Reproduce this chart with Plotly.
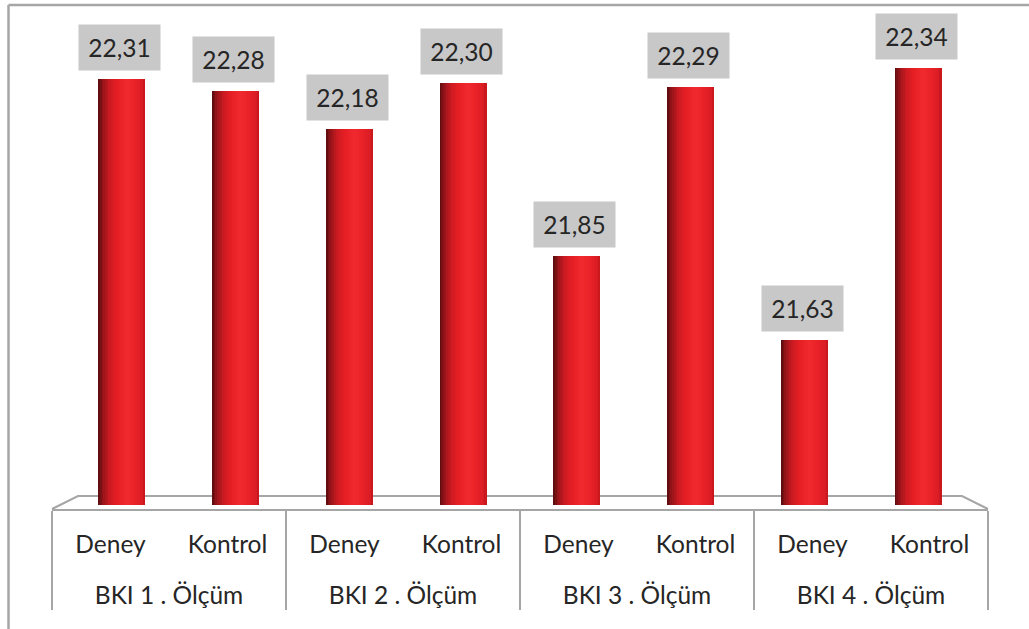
import plotly.graph_objects as go

# Body-mass index (BKI) measurements, experiment vs control group
groups = ["BKI 1 . Ölçüm", "BKI 2 . Ölçüm", "BKI 3 . Ölçüm", "BKI 4 . Ölçüm"]
subgroups = ["Deney", "Kontrol"]
values = [22.31, 22.28, 22.18, 22.30, 21.85, 22.29, 21.63, 22.34]
labels = ["22,31", "22,28", "22,18", "22,30", "21,85", "22,29", "21,63", "22,34"]
base_value = 21.2

outer = [g for g in groups for _ in subgroups]
inner = [s for _ in groups for s in subgroups]
keys = [f"{g}|{s}" for g, s in zip(outer, inner)]

# a blank trailing line under each inner label widens the gap between label rows
spacer = "<br><span style='font-size:28px'>&nbsp;</span>"
inner_ticks = [s + spacer for s in inner]

W, H = 1029, 629
TEXT = "#262626"
GRID = "#a6a6a6"
FONT = "Lato"
FSIZE = 24.5


def px(x):
    return x / W


def py(y):
    return (H - y) / H


# horizontal shading across a cylinder: dark left rim, bright body
stops = [(0.00, (88, 12, 14)), (0.10, (150, 20, 25)), (0.25, (206, 27, 34)),
         (0.40, (229, 30, 37)), (0.60, (240, 42, 46)), (0.80, (232, 33, 40)),
         (0.95, (216, 28, 35)), (1.00, (196, 22, 29))]


def shade(t):
    for (t0, c0), (t1, c1) in zip(stops, stops[1:]):
        if t <= t1:
            f = (t - t0) / (t1 - t0) if t1 > t0 else 0
            c = [round(a + (b - a) * f) for a, b in zip(c0, c1)]
            return f"rgb({c[0]},{c[1]},{c[2]})"
    c = stops[-1][1]
    return f"rgb({c[0]},{c[1]},{c[2]})"


fig = go.Figure()

bar_width = 0.413
n_strips = 28
step = bar_width / n_strips
for i in range(n_strips):
    off = -bar_width / 2 + i * step
    w = min(step * 1.8, bar_width / 2 - off)
    fig.add_trace(go.Bar(
        x=keys, y=[v - base_value for v in values], base=base_value,
        xaxis="x2", yaxis="y",
        width=w, offset=off,
        marker=dict(color=shade((i + 0.5) / n_strips), line=dict(width=0)),
        hoverinfo="skip", showlegend=False,
    ))

# invisible trace that carries the two-level category axis
fig.add_trace(go.Scatter(
    x=[outer, inner_ticks], y=values, xaxis="x", yaxis="y",
    mode="markers", marker=dict(opacity=0), hoverinfo="skip", showlegend=False,
))

for k, v, t in zip(keys, values, labels):
    fig.add_annotation(
        x=k, y=v, xref="x2", yref="y", text=t,
        showarrow=False, yanchor="bottom", yshift=8, xshift=-2,
        bgcolor="#c8c8c8", borderpad=4, width=73, height=37,
        font=dict(family=FONT, size=FSIZE, color=TEXT),
    )

# chart frame and floor outline
fig.add_shape(type="line", xref="paper", yref="paper",
              x0=px(8.5), y0=py(5), x1=1, y1=py(5),
              line=dict(color=GRID, width=2.5))
fig.add_shape(type="line", xref="paper", yref="paper",
              x0=px(8.5), y0=py(5), x1=px(8.5), y1=0,
              line=dict(color=GRID, width=2.5))
fig.add_shape(type="path", xref="paper", yref="paper", layer="below",
              path=f"M {px(52)},{py(509)} L {px(78)},{py(496)} "
                   f"L {px(962)},{py(496)} L {px(988)},{py(509)}",
              line=dict(color=GRID, width=2))

fig.update_layout(
    width=W, height=H, autosize=False,
    margin=dict(l=0, r=0, t=0, b=0),
    paper_bgcolor="white", plot_bgcolor="rgba(0,0,0,0)",
    barmode="overlay", bargap=0,
    xaxis=dict(
        type="multicategory", domain=[px(52), px(988)], anchor="y",
        range=[-0.5, 7.5], showline=True, linecolor=GRID, linewidth=2,
        showdividers=True, dividercolor=GRID, dividerwidth=2,
        showgrid=False, zeroline=False, ticks="",
        ticklabelstandoff=13,
        tickfont=dict(family=FONT, size=FSIZE, color=TEXT),
    ),
    xaxis2=dict(
        type="category", domain=[px(65), px(975)], anchor="y",
        range=[-0.5, 7.5], visible=False, categoryorder="array",
        categoryarray=keys,
    ),
    yaxis=dict(
        domain=[py(509), py(22)], range=[21.19, 22.459],
        visible=False, anchor="x",
    ),
)

fig.write_html("out.html")
